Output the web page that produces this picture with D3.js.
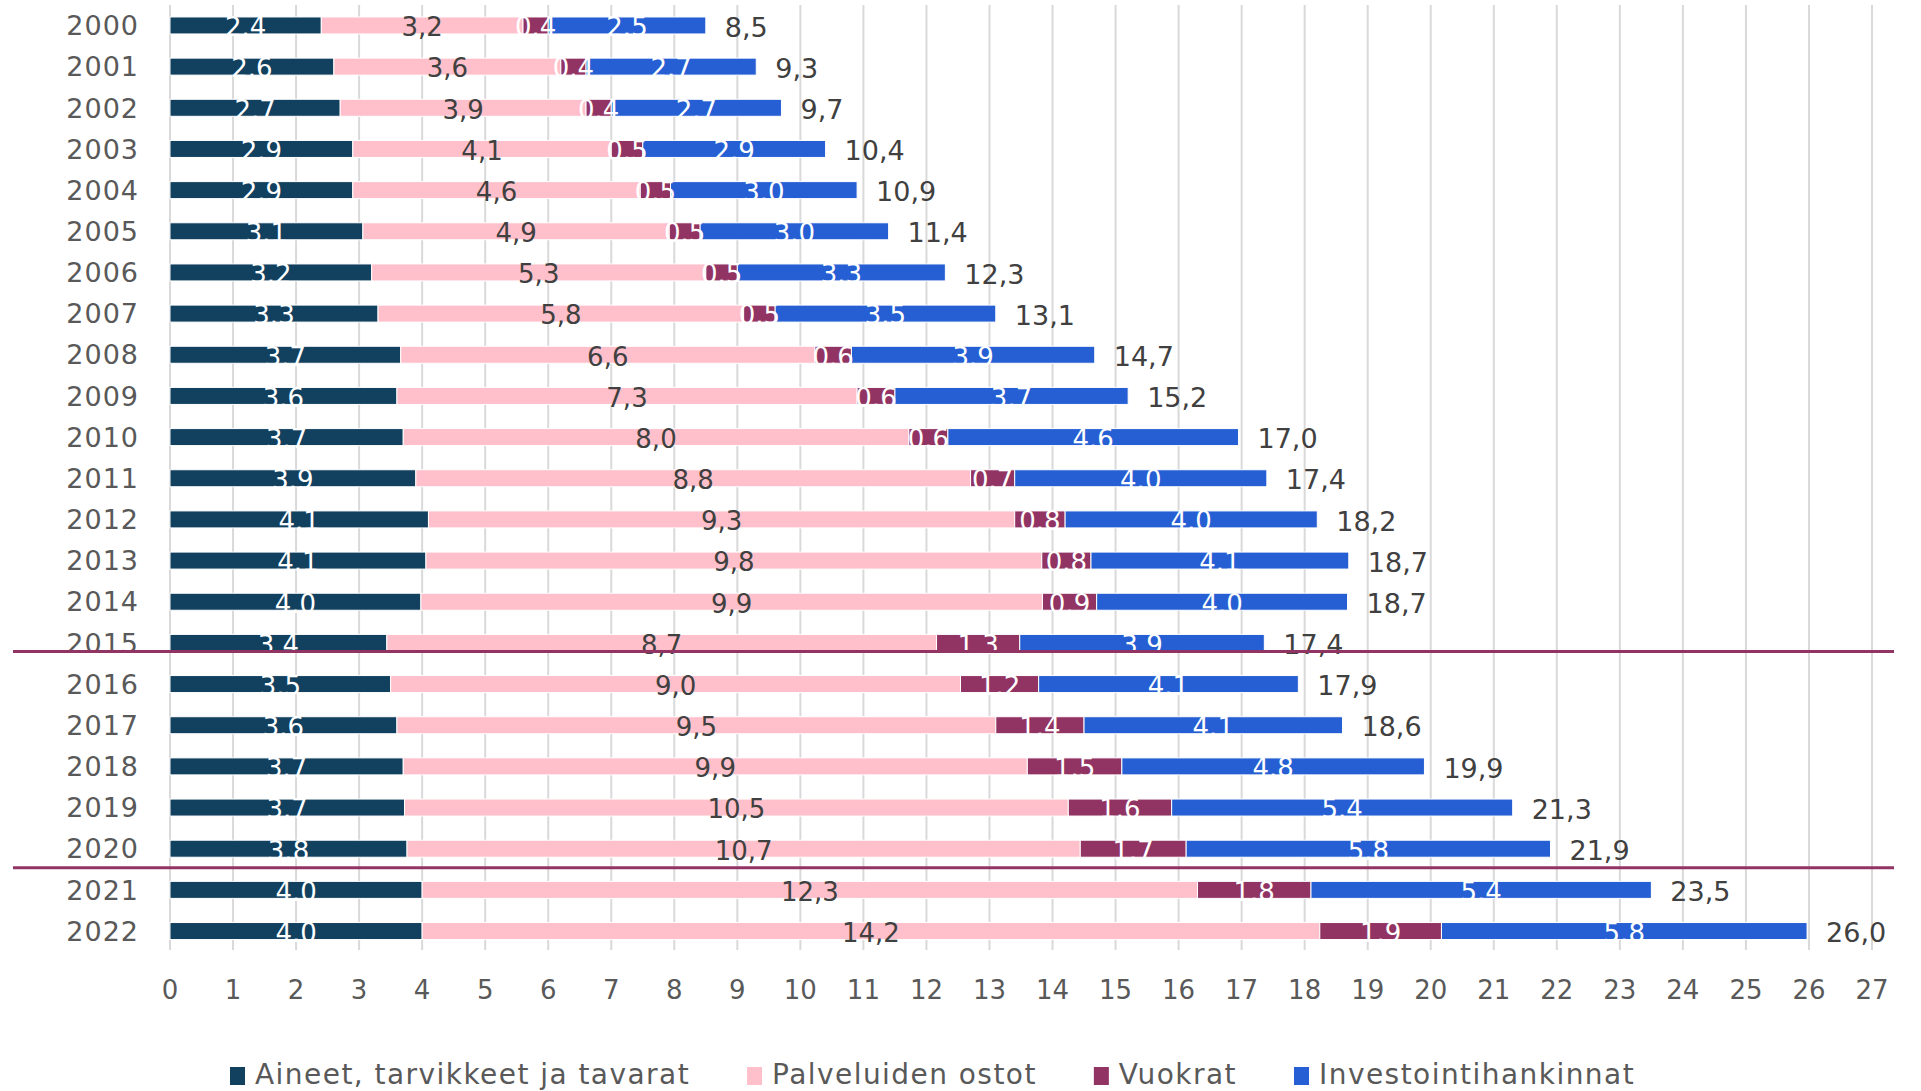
<html>
<head>
<meta charset="utf-8">
<script src="https://d3js.org/d3.v7.min.js"></script>
<style>
body { margin: 0; background: #fff; }
svg { display: block; font-family: "DejaVu Sans", sans-serif; }
</style>
</head>
<body>
<script>
var width = 1921, height = 1091;

var years = ["2000","2001","2002","2003","2004","2005","2006","2007","2008","2009","2010",
             "2011","2012","2013","2014","2015","2016","2017","2018","2019","2020","2021","2022"];
// segment values (labels show them rounded)
var aineet = [2.4,2.6,2.7,2.9,2.9,3.06,3.2,3.3,3.66,3.6,3.7,3.9,4.1,4.06,3.98,3.44,3.5,3.6,3.7,3.72,3.76,4.0,4.0];
var palvelut = [3.2,3.6,3.9,4.1,4.56,4.86,5.3,5.8,6.57,7.3,8.02,8.8,9.3,9.77,9.86,8.72,9.04,9.5,9.9,10.53,10.68,12.3,14.24];
var vuokrat = [0.4,0.4,0.4,0.5,0.48,0.49,0.5,0.5,0.58,0.6,0.62,0.7,0.8,0.78,0.86,1.32,1.24,1.4,1.5,1.64,1.68,1.8,1.93];
var investoinnit = [2.5,2.7,2.7,2.9,2.96,2.99,3.3,3.5,3.86,3.7,4.61,4.0,4.0,4.09,3.98,3.88,4.12,4.1,4.8,5.41,5.78,5.4,5.8];
var totals = [8.5,9.3,9.7,10.4,10.9,11.4,12.3,13.1,14.7,15.2,17.0,17.4,18.2,18.7,18.7,17.4,17.9,18.6,19.9,21.3,21.9,23.5,26.0];
var xTicks = d3.range(0, 28);

var series = [
  { name: "Aineet, tarvikkeet ja tavarat", values: aineet, color: "#12405f", text: "#fff", comma: false },
  { name: "Palveluiden ostot", values: palvelut, color: "#ffc0cb", text: "#404040", comma: true },
  { name: "Vuokrat", values: vuokrat, color: "#923463", text: "#fff", comma: false },
  { name: "Investointihankinnat", values: investoinnit, color: "#265fd3", text: "#fff", comma: false }
];

var svg = d3.select("body").append("svg")
    .attr("width", width)
    .attr("height", height);

var x = d3.scaleLinear().domain([0, 27]).range([170, 1872]);
var y = d3.scaleBand().domain(years).range([-7.2, 963.7]).padding(0.587);

// grid
svg.append("g").selectAll("line")
    .data(xTicks)
    .enter().append("line")
    .attr("x1", d => x(d)).attr("x2", d => x(d))
    .attr("y1", 5).attr("y2", 950)
    .attr("stroke", "#d9d9d9")
    .attr("stroke-width", 2);

// x tick labels
svg.append("g").selectAll("text")
    .data(xTicks)
    .enter().append("text")
    .attr("x", d => x(d))
    .attr("y", 990)
    .attr("dy", "0.36em")
    .attr("text-anchor", "middle")
    .attr("font-size", 26)
    .attr("fill", "#595959")
    .text(d => d);

// year labels
svg.append("g").selectAll("text")
    .data(years)
    .enter().append("text")
    .attr("x", 139)
    .attr("y", d => y(d) + y.bandwidth() / 2)
    .attr("dy", "0.36em")
    .attr("text-anchor", "end")
    .attr("font-size", 27)
    .attr("letter-spacing", 1)
    .attr("fill", "#595959")
    .text(d => d);

// stacked bars
var stackStart = years.map(() => 0);
var bars = svg.append("g");
var labels = svg.append("g");
series.forEach(function(s) {
    var segs = years.map(function(yr, i) {
        var seg = { year: yr, x0: stackStart[i], x1: stackStart[i] + s.values[i], v: s.values[i] };
        stackStart[i] = seg.x1;
        return seg;
    });
    bars.selectAll(null)
        .data(segs)
        .enter().append("rect")
        .attr("x", d => x(d.x0))
        .attr("y", d => y(d.year))
        .attr("width", d => x(d.x1) - x(d.x0))
        .attr("height", y.bandwidth())
        .attr("fill", s.color)
        .attr("stroke", "#fff")
        .attr("stroke-width", 1);
    labels.selectAll(null)
        .data(segs)
        .enter().append("text")
        .attr("x", d => (x(d.x0) + x(d.x1)) / 2)
        .attr("y", d => y(d.year) + y.bandwidth() / 2 + 1.5)
        .attr("dy", "0.36em")
        .attr("text-anchor", "middle")
        .attr("font-size", 26)
        .attr("fill", s.text)
        .text(function(d) {
            var t = d3.format(".1f")(d.v);
            return s.comma ? t.replace(".", ",") : t;
        });
});

// totals
labels.selectAll(null)
    .data(totals)
    .enter().append("text")
    .attr("x", (d, i) => x(stackStart[i]) + 19)
    .attr("y", (d, i) => y(years[i]) + y.bandwidth() / 2 + 1.5)
    .attr("dy", "0.36em")
    .attr("font-size", 27)
    .attr("fill", "#404040")
    .text(d => d3.format(".1f")(d).replace(".", ","));

// period separators
var sep1 = y("2015") + y.bandwidth();
var sep2 = (y("2020") + y.bandwidth() + y("2021")) / 2 - 1.5;
svg.append("g").selectAll("line")
    .data([sep1, sep2])
    .enter().append("line")
    .attr("x1", 13).attr("x2", 1894)
    .attr("y1", d => d).attr("y2", d => d)
    .attr("stroke", "#923463")
    .attr("stroke-width", 3);

// legend
var legend = svg.append("g");
var lx = 230;
series.forEach(function(s) {
    legend.append("rect")
        .attr("x", lx).attr("y", 1067)
        .attr("width", 15).attr("height", 18)
        .attr("fill", s.color);
    var t = legend.append("text")
        .attr("x", lx + 25)
        .attr("y", 1074)
        .attr("dy", "0.36em")
        .attr("font-size", 28)
        .attr("letter-spacing", 1.45)
        .attr("fill", "#595959")
        .text(s.name);
    lx += 25 + t.node().getComputedTextLength() + 57;
});
</script>
</body>
</html>
